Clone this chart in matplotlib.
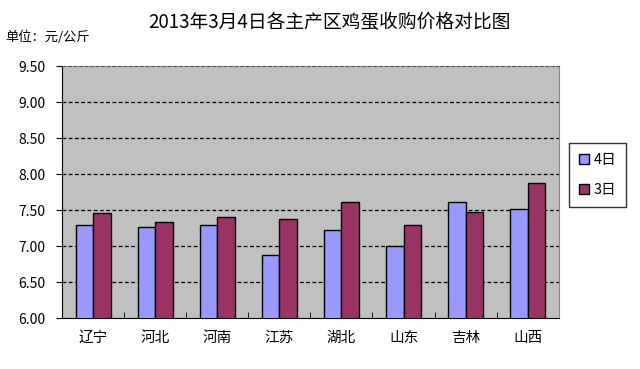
import matplotlib.pyplot as plt
import numpy as np

plt.rcParams['font.family'] = ['Noto Sans CJK SC', 'DejaVu Sans']

regions = ["辽宁", "河北", "河南", "江苏", "湖北", "山东", "吉林", "山西"]
price_4 = [7.29, 7.27, 7.29, 6.88, 7.23, 7.00, 7.61, 7.51]
price_3 = [7.46, 7.33, 7.40, 7.37, 7.61, 7.29, 7.47, 7.87]
yticks = [6.00, 6.50, 7.00, 7.50, 8.00, 8.50, 9.00, 9.50]

fig = plt.figure(figsize=(6.4, 3.69), dpi=100)
ax = fig.add_axes([0.097, 0.138, 0.776, 0.683])
ax.set_facecolor("#C0C0C0")

x = np.arange(len(regions))
w = 0.28
ax.bar(x - w / 2, price_4, w, color="#9999FF", edgecolor="black",
       linewidth=1, label="4日", zorder=3)
ax.bar(x + w / 2, price_3, w, color="#993366", edgecolor="black",
       linewidth=1, label="3日", zorder=3)

ax.set_ylim(6.0, 9.5)
ax.set_xlim(-0.5, len(regions) - 0.5)
ax.set_yticks(yticks)
ax.set_yticklabels([f"{v:.2f}" for v in yticks], fontsize=10)
for v in yticks[1:-1]:
    ax.axhline(v, color="black", linestyle=(0, (3, 2)), linewidth=0.9, zorder=1)

ax.set_xticks(x)
ax.set_xticklabels(regions, fontsize=10.5)
ax.set_xticks(np.arange(len(regions) + 1) - 0.5, minor=True)
ax.tick_params(axis="x", which="major", length=0, pad=9)
ax.tick_params(axis="x", which="minor", direction="in", length=4)
ax.tick_params(axis="y", direction="out", length=4, pad=8)

ax.spines["top"].set_linestyle((0, (3, 2)))
ax.spines["top"].set_color("#555555")
ax.spines["right"].set_linestyle((0, (1, 1)))
ax.spines["right"].set_color("#888888")

ax.legend(loc="center left", bbox_to_anchor=(1.02, 0.567), frameon=True,
          fancybox=False, edgecolor="black", fontsize=10.5, handlelength=0.7,
          handleheight=0.7, handletextpad=0.3, labelspacing=1.1,
          borderpad=0.7, borderaxespad=0)

fig.text(0.515, 0.94, "2013年3月4日各主产区鸡蛋收购价格对比图", ha="center",
         va="center", fontsize=13.5)
fig.text(0.008, 0.9, "单位：元/公斤", ha="left", va="center", fontsize=9.5)

fig.savefig("out.png", dpi=100)
